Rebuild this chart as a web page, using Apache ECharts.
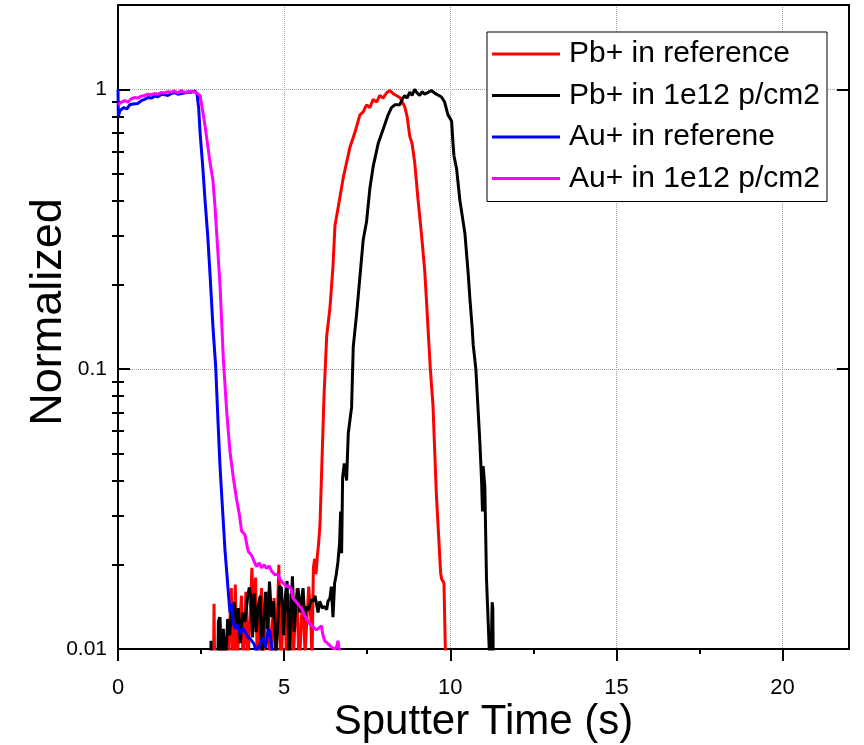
<!DOCTYPE html>
<html>
<head>
<meta charset="utf-8">
<script src="https://cdn.jsdelivr.net/npm/echarts@6/dist/echarts.min.js"></script>
<style>
  html, body { margin: 0; padding: 0; background: #fff; }
  #chart { width: 864px; height: 745px; }
</style>
</head>
<body>
<div id="chart"></div>
<script>
var names = ['Pb+ in reference', 'Pb+ in 1e12 p/cm2', 'Au+ in referene', 'Au+ in 1e12 p/cm2'];
var colors = ['#ff0000', '#000000', '#0000ff', '#ff00ff'];

// Pb+ in reference (red)
var pbRef = [[2.86,0.005],[2.89,0.0145],[2.93,0.005],[3.04,0.005],[3.07,0.013],[3.11,0.0105],[3.14,0.005],[3.22,0.011],[3.27,0.005],[3.36,0.012],[3.41,0.0165],[3.46,0.008],[3.53,0.017],[3.58,0.009],[3.66,0.0125],[3.72,0.0155],[3.77,0.008],[3.85,0.016],[3.91,0.009],[3.98,0.0135],[4.03,0.0195],[4.08,0.012],[4.14,0.018],[4.2,0.008],[4.26,0.0125],[4.32,0.0165],[4.38,0.009],[4.45,0.0142],[4.52,0.016],[4.58,0.008],[4.65,0.0125],[4.7,0.0152],[4.76,0.009],[4.84,0.02],[4.9,0.008],[4.96,0.0125],[5.02,0.015],[5.08,0.009],[5.14,0.0118],[5.2,0.0158],[5.27,0.009],[5.33,0.0125],[5.39,0.0165],[5.45,0.008],[5.52,0.0128],[5.57,0.015],[5.63,0.0095],[5.68,0.0125],[5.74,0.0167],[5.8,0.013],[5.84,0.009],[5.88,0.0195],[5.92,0.021],[5.96,0.0185],[6.0,0.0215],[6.04,0.024],[6.08,0.028],[6.13,0.0436],[6.2,0.08],[6.28,0.131],[6.38,0.166],[6.47,0.233],[6.53,0.326],[6.63,0.38],[6.78,0.484],[6.98,0.62],[7.13,0.70],[7.28,0.81],[7.38,0.83],[7.48,0.88],[7.58,0.86],[7.68,0.92],[7.78,0.90],[7.88,0.95],[7.98,0.93],[8.08,0.97],[8.18,0.99],[8.24,1.0],[8.3,0.96],[8.38,0.95],[8.5,0.93],[8.63,0.865],[8.7,0.80],[8.78,0.68],[8.85,0.64],[8.93,0.547],[9.03,0.403],[9.13,0.306],[9.23,0.226],[9.28,0.179],[9.4,0.1],[9.48,0.074],[9.58,0.036],[9.71,0.0187],[9.74,0.0178],[9.81,0.0172],[9.86,0.009]];

// Pb+ in 1e12 p/cm2 (black)
var pbIrr = [[2.77,0.005],[2.8,0.0107],[2.84,0.005],[2.98,0.005],[3.02,0.0125],[3.06,0.013],[3.1,0.008],[3.17,0.0118],[3.23,0.0085],[3.3,0.0128],[3.36,0.0112],[3.42,0.0135],[3.5,0.0147],[3.56,0.0122],[3.62,0.014],[3.68,0.0105],[3.75,0.0135],[3.82,0.0125],[3.9,0.0152],[3.95,0.0166],[4.0,0.0155],[4.05,0.011],[4.1,0.0158],[4.16,0.0115],[4.22,0.0142],[4.28,0.0155],[4.33,0.009],[4.38,0.0122],[4.44,0.016],[4.5,0.0118],[4.56,0.0174],[4.62,0.013],[4.68,0.0148],[4.74,0.0095],[4.8,0.0115],[4.86,0.0168],[4.92,0.0165],[4.98,0.0112],[5.04,0.0155],[5.09,0.0175],[5.15,0.009],[5.2,0.0135],[5.25,0.0182],[5.3,0.0115],[5.36,0.0148],[5.42,0.0165],[5.47,0.0135],[5.52,0.015],[5.57,0.0165],[5.62,0.0128],[5.68,0.0142],[5.74,0.0138],[5.8,0.015],[5.87,0.0148],[5.93,0.0155],[5.97,0.0155],[6.02,0.0135],[6.07,0.0148],[6.15,0.014],[6.22,0.0142],[6.28,0.0138],[6.32,0.0148],[6.38,0.0152],[6.42,0.0167],[6.47,0.013],[6.52,0.0172],[6.57,0.0185],[6.62,0.0205],[6.67,0.024],[6.7,0.031],[6.73,0.022],[6.76,0.041],[6.81,0.046],[6.88,0.040],[6.93,0.059],[7.03,0.073],[7.08,0.12],[7.18,0.157],[7.28,0.213],[7.38,0.29],[7.48,0.336],[7.58,0.442],[7.68,0.53],[7.83,0.64],[7.98,0.72],[8.13,0.81],[8.23,0.86],[8.33,0.88],[8.48,0.88],[8.55,0.92],[8.63,0.95],[8.7,0.93],[8.78,0.976],[8.85,0.95],[8.93,1.0],[9.0,0.97],[9.08,0.95],[9.15,0.98],[9.23,0.96],[9.33,0.975],[9.43,0.99],[9.5,0.975],[9.58,0.96],[9.66,0.95],[9.74,0.936],[9.83,0.9],[9.93,0.81],[10.04,0.77],[10.08,0.645],[10.11,0.58],[10.19,0.52],[10.29,0.40],[10.44,0.306],[10.54,0.219],[10.59,0.179],[10.66,0.14],[10.69,0.122],[10.77,0.1],[10.89,0.055],[10.94,0.0404],[10.97,0.031],[10.99,0.045],[11.04,0.038],[11.09,0.0178],[11.17,0.0102],[11.21,0.007],[11.26,0.0147],[11.28,0.014],[11.31,0.005]];

// Au+ in referene (blue)
var auRef = [[0,1.0],[0.01,0.80],[0.06,0.84],[0.12,0.83],[0.18,0.86],[0.27,0.85],[0.35,0.88],[0.45,0.886],[0.51,0.896],[0.6,0.89],[0.7,0.91],[0.8,0.92],[0.9,0.934],[1.0,0.93],[1.11,0.945],[1.2,0.94],[1.32,0.96],[1.42,0.955],[1.5,0.95],[1.6,0.965],[1.71,0.973],[1.8,0.96],[1.92,0.965],[2.0,0.97],[2.11,0.978],[2.2,0.975],[2.32,0.986],[2.38,0.96],[2.43,0.85],[2.47,0.70],[2.55,0.53],[2.62,0.40],[2.7,0.30],[2.77,0.218],[2.86,0.14],[2.94,0.102],[3.01,0.065],[3.07,0.045],[3.13,0.034],[3.22,0.0225],[3.27,0.019],[3.31,0.0165],[3.37,0.0135],[3.43,0.0145],[3.46,0.0125],[3.52,0.0118],[3.6,0.0122],[3.68,0.0113],[3.75,0.0119],[3.84,0.0114],[3.92,0.011],[4.0,0.0108],[4.1,0.0104],[4.15,0.0098],[4.28,0.0104],[4.36,0.011],[4.45,0.0101],[4.52,0.0118],[4.57,0.0115],[4.66,0.0095]];

// Au+ in 1e12 p/cm2 (magenta)
var auIrr = [[0,0.88],[0.05,0.87],[0.1,0.9],[0.2,0.91],[0.3,0.90],[0.4,0.925],[0.5,0.934],[0.6,0.93],[0.7,0.945],[0.8,0.95],[0.9,0.96],[1.0,0.955],[1.1,0.965],[1.2,0.96],[1.3,0.973],[1.4,0.97],[1.5,0.98],[1.6,0.975],[1.7,0.986],[1.8,0.97],[1.9,0.99],[2.0,0.975],[2.1,0.978],[2.2,0.985],[2.36,0.973],[2.47,0.95],[2.56,0.82],[2.62,0.74],[2.7,0.63],[2.77,0.547],[2.86,0.47],[2.92,0.38],[2.97,0.306],[3.07,0.20],[3.17,0.109],[3.27,0.071],[3.37,0.0508],[3.47,0.041],[3.57,0.0342],[3.65,0.0304],[3.72,0.0264],[3.82,0.0256],[3.92,0.0223],[4.02,0.0216],[4.1,0.0205],[4.17,0.0197],[4.25,0.0203],[4.32,0.0195],[4.4,0.020],[4.47,0.0194],[4.55,0.0198],[4.62,0.019],[4.72,0.0184],[4.8,0.0185],[4.87,0.0178],[4.97,0.0172],[5.07,0.0167],[5.15,0.0168],[5.22,0.0163],[5.26,0.0152],[5.35,0.0148],[5.47,0.0142],[5.55,0.0138],[5.62,0.0131],[5.7,0.0127],[5.77,0.0123],[5.87,0.012],[5.97,0.0117],[6.05,0.0119],[6.12,0.0121],[6.17,0.0112],[6.22,0.0107],[6.3,0.0105],[6.37,0.0103],[6.45,0.0101],[6.52,0.0100],[6.58,0.0102],[6.62,0.0107],[6.68,0.0095]];

var xMajorTicks = [0, 5, 10, 15, 20];
var xMinorTicks = [2.5, 7.5, 12.5, 17.5];
var yMajorTicks = [0.01, 0.1, 1];
var yMinorTicks = [0.02, 0.03, 0.04, 0.05, 0.06, 0.07, 0.08, 0.09, 0.2, 0.3, 0.4, 0.5, 0.6, 0.7, 0.8, 0.9];

var font = '"Liberation Sans", Arial, sans-serif';
var chart = echarts.init(document.getElementById('chart'), null, { renderer: 'canvas' });

function logAxis(pos, ticks, len, extra) {
  var ax = {
    type: 'log', logBase: 10, min: 0.01, max: 2, position: pos,
    axisLine: { show: false },
    axisTick: { show: true, inside: true, length: len, customValues: ticks, lineStyle: { color: '#000', width: 2 } },
    axisLabel: { show: false },
    splitLine: { show: false }
  };
  return Object.assign(ax, extra || {});
}

var series = [pbRef, pbIrr, auRef, auIrr].map(function (d, i) {
  return {
    name: names[i], type: 'line', data: d, showSymbol: false, symbol: 'none',
    clip: true, xAxisIndex: 0, yAxisIndex: 0,
    lineStyle: { color: colors[i], width: 3 }, itemStyle: { color: colors[i] }
  };
});

chart.setOption({
  animation: false,
  backgroundColor: '#fff',
  grid: { left: 118, right: 15, top: 5, bottom: 96, containLabel: false, outerBoundsMode: 'none' },
  legend: {
    data: names, orient: 'vertical', left: 487, top: 32,
    icon: 'rect', itemWidth: 68, itemHeight: 3, itemGap: 11.5,
    padding: [7, 7, 8, 5],
    backgroundColor: '#fff', borderColor: '#000', borderWidth: 1,
    textStyle: { fontFamily: font, fontSize: 30, color: '#000', padding: [0, 0, 0, 4] }
  },
  xAxis: [
    {
      type: 'value', min: 0, max: 22, interval: 5, position: 'bottom',
      name: 'Sputter Time (s)', nameLocation: 'middle', nameGap: 52, nameMoveOverlap: false,
      nameTextStyle: { fontFamily: font, fontSize: 42, color: '#000' },
      axisLine: { show: true, onZero: false, lineStyle: { color: '#000', width: 2 } },
      axisTick: { show: true, inside: false, length: 12, customValues: xMajorTicks, lineStyle: { color: '#000', width: 2 } },
      axisLabel: { show: true, customValues: xMajorTicks, margin: 28, fontFamily: font, fontSize: 22, color: '#000' },
      splitLine: { show: true, lineStyle: { color: '#a0a0a0', width: 1, type: 'dotted' } }
    },
    {
      type: 'value', min: 0, max: 22, position: 'bottom',
      axisLine: { show: false },
      axisTick: { show: true, inside: false, length: 5, customValues: xMinorTicks, lineStyle: { color: '#000', width: 2 } },
      axisLabel: { show: false }, splitLine: { show: false }
    },
    {
      type: 'value', min: 0, max: 22, position: 'top',
      axisLine: { show: true, onZero: false, lineStyle: { color: '#000', width: 2 } },
      axisTick: { show: false }, axisLabel: { show: false }, splitLine: { show: false }
    }
  ],
  yAxis: [
    logAxis('left', yMajorTicks, 12, {
      name: 'Normalized', nameLocation: 'middle', nameGap: 47, nameRotate: 90, nameMoveOverlap: false,
      nameTextStyle: { fontFamily: font, fontSize: 45, color: '#000', padding: [0, 0, 0, 30] },
      axisLine: { show: true, onZero: false, lineStyle: { color: '#000', width: 2 } },
      axisLabel: {
        show: true, customValues: yMajorTicks, margin: 11, fontFamily: font, fontSize: 21, color: '#000',
        formatter: function (v) { return String(v); }
      },
      splitLine: { show: true, lineStyle: { color: '#a0a0a0', width: 1, type: 'dotted' } }
    }),
    logAxis('left', yMinorTicks, 6),
    logAxis('right', yMajorTicks, 12, {
      axisLine: { show: true, onZero: false, lineStyle: { color: '#000', width: 2 } }
    }),
    logAxis('right', yMinorTicks, 6)
  ],
  series: series
});
</script>
</body>
</html>
